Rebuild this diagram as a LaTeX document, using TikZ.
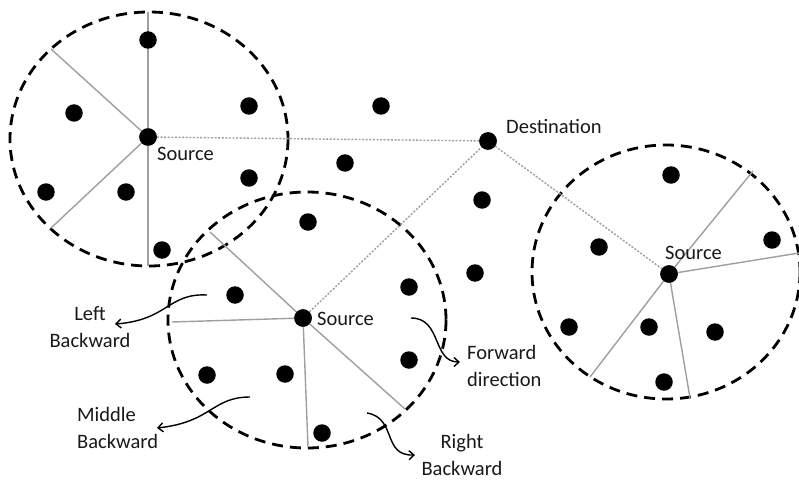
\documentclass[tikz,border=0pt]{standalone}
\usepackage{fontspec}
\setmainfont{Carlito}
\usetikzlibrary{arrows.meta}
\begin{document}
\begin{tikzpicture}[x=1pt,y=-1pt,
  dot/.style={circle,fill=black,inner sep=0pt,minimum size=17.5pt},
  rangering/.style={draw=black,line width=2.8pt,dash pattern=on 11pt off 7pt},
  spoke/.style={draw=gray!75,line width=1.4pt},
  route/.style={draw=gray!75,line width=1.4pt,dash pattern=on 2pt off 1.6pt},
  note/.style={draw=black,line width=1.4pt,-{Straight Barb[length=5pt,width=9pt]}},
  lbl/.style={inner sep=0pt,font=\fontsize{20.5}{26.5}\selectfont,text=black!90}]
\useasboundingbox (0,0) rectangle (799,481);
\fill[white] (0,0) rectangle (799,481);

% ranges
\draw[rangering] (149,139) ellipse [x radius=139,y radius=127];
\draw[rangering] (307,320) ellipse [x radius=139,y radius=128];
\draw[rangering] (666,272) ellipse [x radius=134,y radius=127];

% sources and destination
\node[dot] (s1) at (148,137) {};
\node[dot] (s2) at (303,318) {};
\node[dot] (s3) at (669,274) {};
\node[dot] (dst) at (488,141) {};

% spoke end points
\coordinate (a1) at (148,12);
\coordinate (a2) at (51,49);
\coordinate (a3) at (51,228);
\coordinate (a4) at (148,266);
\coordinate (b1) at (210,232);
\coordinate (b2) at (172,322);
\coordinate (b3) at (308,447);
\coordinate (b4) at (405,409);
\coordinate (c1) at (753,171);
\coordinate (c2) at (799,253);
\coordinate (c3) at (590,377);
\coordinate (c4) at (690,398);

\draw[spoke] (a1) -- (s1.center) -- (a4);
\draw[spoke] (s1.center) -- (a2);
\draw[spoke] (s1.center) -- (a3);
\draw[spoke] (s2.center) -- (b1);
\draw[spoke] (s2.center) -- (b2);
\draw[spoke] (s2.center) -- (b3);
\draw[spoke] (s2.center) -- (b4);
\draw[spoke] (s3.center) -- (c1);
\draw[spoke] (s3.center) -- (c2);
\draw[spoke] (s3.center) -- (c3);
\draw[spoke] (s3.center) -- (c4);

% routes
\draw[route] (s1) -- (dst);
\draw[route] (s2) -- (dst);
\draw[route] (dst) -- (s3);

% redraw source dots on top
\node[dot] at (s1) {};
\node[dot] at (s2) {};
\node[dot] at (s3) {};
\node[dot] at (dst) {};

% other nodes
\node[dot] (n1) at (148,40) {};
\node[dot] (n2) at (74,113) {};
\node[dot] (n3) at (249,106) {};
\node[dot] (n4) at (46,192) {};
\node[dot] (n5) at (126,192) {};
\node[dot] (n6) at (249,178) {};
\node[dot] (n7) at (162,250) {};
\node[dot] (m1) at (308,222) {};
\node[dot] (m2) at (235,295) {};
\node[dot] (m3) at (409,287) {};
\node[dot] (m4) at (207,375) {};
\node[dot] (m5) at (285,374) {};
\node[dot] (m6) at (409,360) {};
\node[dot] (m7) at (322,433) {};
\node[dot] (k1) at (671,175) {};
\node[dot] (k2) at (599,247) {};
\node[dot] (k3) at (772,240) {};
\node[dot] (k4) at (569,327) {};
\node[dot] (k5) at (649,327) {};
\node[dot] (k6) at (715,332) {};
\node[dot] (k7) at (664,382) {};
\node[dot] (f1) at (381,106) {};
\node[dot] (f2) at (345,163) {};
\node[dot] (f3) at (482,200) {};
\node[dot] (f4) at (475,273) {};

% labels
\node[lbl,anchor=west] (ls1) at (157,154) {Source};
\node[lbl,anchor=west] (ls2) at (317,319) {Source};
\node[lbl,anchor=west] (ls3) at (665,253) {Source};
\node[lbl,anchor=west] (ldst) at (506,126) {Destination};

\node[lbl,align=center] (tl) at (90,327) {Left\\Backward};
\node[lbl,align=left,anchor=west] (tm) at (77,428) {Middle\\Backward};
\node[lbl,align=left,anchor=west] (tf) at (467,366) {Forward\\direction};
\node[lbl,align=center] (tr) at (462,455) {Right\\Backward};

% annotation arrows
\coordinate (pl0) at (207,295);
\coordinate (pl1) at (115,324);
\coordinate (pm0) at (250,397);
\coordinate (pm1) at (157,428);
\coordinate (pf0) at (411,318);
\coordinate (pf1) at (460,362);
\coordinate (pr0) at (367,413);
\coordinate (pr1) at (415,455);
\draw[note] (pl0) .. controls (168,293) and (168,320) .. (pl1);
\draw[note] (pm0) .. controls (212,397) and (212,422) .. (pm1);
\draw[note] (pf0) .. controls (442,318) and (432,362) .. (pf1);
\draw[note] (pr0) .. controls (397,418) and (382,456) .. (pr1);
\end{tikzpicture}
\end{document}
